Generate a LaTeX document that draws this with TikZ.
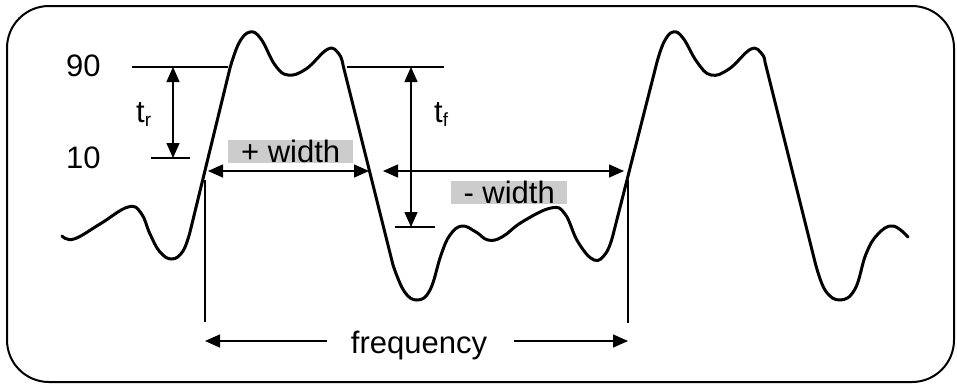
\documentclass[tikz,border=0pt]{standalone}
\usepackage{fontspec}
\setmainfont{Liberation Sans}
\usepackage{tikz}
\usetikzlibrary{arrows.meta,positioning,calc}

\begin{document}
\begin{tikzpicture}[x=1pt, y=-1pt,
  wave/.style={line width=3pt, line join=round, line cap=round},
  guide/.style={line width=1.5pt},
  dimarrow/.style={line width=1.5pt, -{Triangle[length=15pt,width=13pt]}},
  dimboth/.style={line width=1.5pt, {Triangle[length=15pt,width=13pt]}-{Triangle[length=15pt,width=13pt]}},
  lbl/.style={inner sep=0pt, font=\fontsize{31}{36}\selectfont},
  graybox/.style={lbl, fill=black!20, minimum height=23pt}]

\useasboundingbox (0,0) rectangle (957,384);

% Outer frame
\draw[line width=2pt, rounded corners=42pt] (7,6) rectangle (954,382);

% Signal (smooth parts joined by straight edges)
\draw[wave]
  plot[smooth, tension=0.7] coordinates {(62,236) (74,239) (100,224) (128,207) (141,213) (150,234) (160,252) (172,259) (183,251) (190,232)}
  -- plot[smooth, tension=0.7] coordinates {(230,68) (239,43) (250,32) (261,39) (275,65) (288,75) (306,69) (328,49) (339,54) (343,65)}
  -- plot[smooth, tension=0.7] coordinates {(393,265) (404,291) (417,300) (430,290) (441,255) (450,235) (462,226) (476,232) (488,240) (502,237) (522,222) (551,208) (565,214) (578,242) (594,260) (606,253) (613,235)}
  -- plot[smooth, tension=0.7] coordinates {(657,62) (664,42) (673,32) (683,38) (697,62) (711,75) (729,69) (751,49) (762,54) (765,62)}
  -- plot[smooth, tension=0.7] coordinates {(815,262) (825,290) (840,300) (855,289) (866,254) (878,234) (893,226) (908,237)};

% Reference levels
\coordinate (L90a) at (132,67);  \coordinate (L90b) at (228,67);
\coordinate (L90c) at (347,67);  \coordinate (L90d) at (444,67);
\coordinate (L10a) at (151,158); \coordinate (L10b) at (190,158);
\coordinate (Lfa) at (395,227);  \coordinate (Lfb) at (435,227);
\draw[guide] (L90a) -- (L90b);
\draw[guide] (L90c) -- (L90d);
\draw[guide] (L10a) -- (L10b);
\draw[guide] (Lfa) -- (Lfb);

\node[lbl, anchor=base west] (n90) at (66,76) {90};
\node[lbl, anchor=base west] (n10) at (66,168) {10};

% Rise and fall times
\coordinate (trtop) at (173,67); \coordinate (trbot) at (173,158);
\coordinate (tftop) at (411,67); \coordinate (tfbot) at (411,227);
\draw[dimboth] (trtop) -- (trbot);
\draw[dimboth] (tftop) -- (tfbot);
\node[lbl, anchor=base west] (tr) at (136,122) {t\raisebox{-4pt}{\fontsize{19}{22}\selectfont r}};
\node[lbl, anchor=base west] (tf) at (434,122) {t\raisebox{-4pt}{\fontsize{19}{22}\selectfont f}};

% Pulse widths
\coordinate (pwl) at (208,171); \coordinate (pwr) at (369,171);
\coordinate (nwl) at (383,171); \coordinate (nwr) at (624,171);
\draw[dimboth] (pwl) -- (pwr);
\draw[dimboth] (nwl) -- (nwr);
\node[graybox, minimum width=125pt, anchor=north west] (pw) at (228,140) {+ width};
\node[graybox, minimum width=116pt, anchor=north west] (nw) at (451,181) {- width};

% Period markers
\coordinate (vla) at (205,180); \coordinate (vlb) at (205,322);
\coordinate (vra) at (628,180); \coordinate (vrb) at (628,323);
\draw[guide] (vla) -- (vlb);
\draw[guide] (vra) -- (vrb);

% Frequency
\node[lbl, anchor=base] (freq) at (419,353) {frequency};
\coordinate (fqa) at (327,341); \coordinate (fql) at (205,341);
\coordinate (fqb) at (514,341); \coordinate (fqr) at (628,341);
\draw[dimarrow] (fqa) -- (fql);
\draw[dimarrow] (fqb) -- (fqr);

\end{tikzpicture}
\end{document}
